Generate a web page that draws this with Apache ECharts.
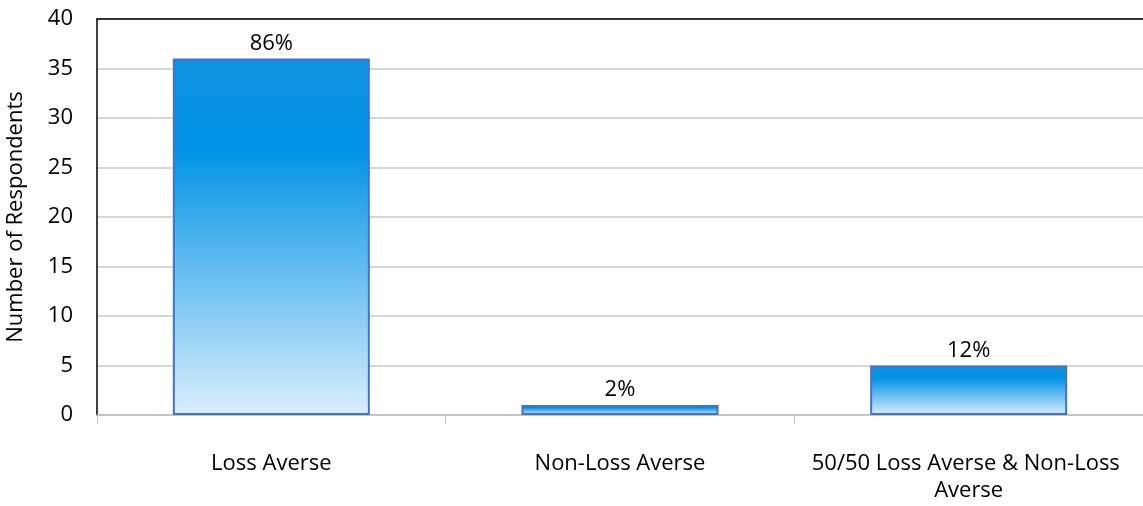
<!DOCTYPE html>
<html>
<head>
<meta charset="utf-8">
<script src="https://cdn.jsdelivr.net/npm/echarts@6/dist/echarts.min.js"></script>
<style>html,body{margin:0;padding:0;background:#fff;}#c{width:1143px;height:506px;}</style>
</head>
<body>
<div id="c"></div>
<script>
var categories = ['Loss Averse', 'Non-Loss Averse', '50/50 Loss Averse & Non-Loss Averse'];
var respondents = [36, 1, 5];
var percentLabels = ['86%', '2%', '12%'];
var yTicks = [0, 5, 10, 15, 20, 25, 30, 35, 40];

var FONT = 'Open Sans';
var chart = echarts.init(document.getElementById('c'));
chart.setOption({
  animation: false,
  backgroundColor: '#ffffff',
  grid: { left: 97, right: 0, top: 19, bottom: 91, containLabel: false, outerBoundsMode: 'none' },
  xAxis: [{
    type: 'category',
    data: categories,
    axisLine: { lineStyle: { color: '#bfbfbf', width: 1.5 } },
    axisTick: { show: true, length: 8, lineStyle: { color: '#bfbfbf' } },
    axisLabel: { interval: 0, color: '#000', fontFamily: FONT, fontSize: 22, margin: 35, width: 340, overflow: 'break', lineHeight: 27 }
  }, {
    type: 'category',
    position: 'top',
    data: categories,
    axisLine: { show: true, lineStyle: { color: '#000', width: 1.5 } },
    axisTick: { show: false },
    axisLabel: { show: false }
  }],
  yAxis: {
    type: 'value',
    min: yTicks[0],
    max: yTicks[yTicks.length - 1],
    interval: 5,
    name: 'Number of Respondents',
    nameLocation: 'middle',
    nameGap: 70,
    nameTextStyle: { color: '#000', fontFamily: FONT, fontSize: 22 },
    axisLine: { show: true, lineStyle: { color: '#000', width: 1.5 } },
    axisTick: { show: false },
    axisLabel: { color: '#000', fontFamily: FONT, fontSize: 22, margin: 24 },
    splitLine: { lineStyle: { color: '#c8c8c8', width: 1.5 } }
  },
  series: [{
    type: 'bar',
    data: respondents,
    barWidth: '56.5%',
    itemStyle: {
      borderColor: '#4472c4',
      borderWidth: 2,
      color: {
        type: 'linear', x: 0, y: 0, x2: 0, y2: 1,
        colorStops: [
          { offset: 0, color: '#1192e2' },
          { offset: 0.25, color: '#0093e6' },
          { offset: 1, color: '#daeefc' }
        ]
      }
    },
    label: {
      show: true,
      position: 'top',
      distance: 4,
      color: '#000',
      fontFamily: FONT,
      fontSize: 22,
      formatter: function (p) { return percentLabels[p.dataIndex]; }
    }
  }]
});
</script>
</body>
</html>
